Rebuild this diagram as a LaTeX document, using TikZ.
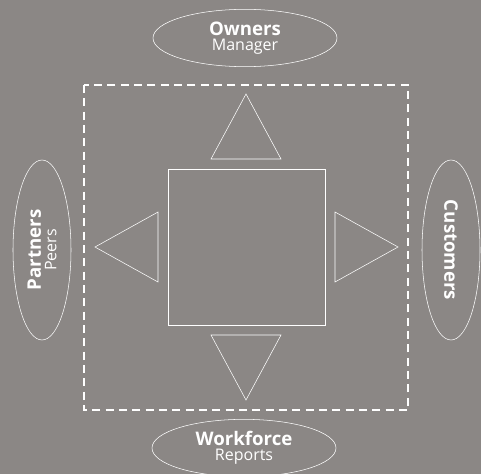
\documentclass[tikz,border=0pt]{standalone}
\usepackage{fontspec}
\setmainfont{Open Sans}
\usetikzlibrary{shapes.geometric, positioning}
\definecolor{bg}{RGB}{139,135,133}
\tikzset{
    line width=1.2pt,
    every node/.style={text=white, font=\fontsize{12}{14}\selectfont},
    party/.style={draw=white, ellipse, inner sep=0pt, minimum width=138pt, minimum height=43pt, align=center}, % the four outer groups
    side/.style={minimum width=135pt, minimum height=43.5pt}, % upright ellipses left and right
    arrowhead/.style={draw=white}, % the open triangles
    frame/.style={draw=white, dash pattern=on 6pt off 4pt, line width=1.4pt},
}
\newcommand{\grp}[2]{{\fontsize{14}{14}\selectfont\textbf{#1}}\\[-2.5pt]#2}

\begin{document}
\begin{tikzpicture}[x=0.75pt, y=-0.75pt]
    % background
    \useasboundingbox (0,0) rectangle (481,474);
    \fill[bg] (0,0) rectangle (481,474);

    % boundary
    \draw[frame] (84,85) rectangle (408,410);

    % centre
    \node[draw=white, minimum width=118pt, minimum height=117pt, inner sep=0pt] (core) at (246.5,247) {};

    % groups
    \node[party] (owners) at (245,38) {\grp{Owners}{Manager}};
    \node[party] (workforce) at (244,448) {\grp{Workforce}{Reports}};
    \node[party, side, rotate=90] (partners) at (42,250) {\grp{Partners}{Peers}};
    \node[party, side, rotate=-90] (customers) at (451,250) {{\fontsize{14}{14}\selectfont\textbf{Customers}}};

    % triangles
    \draw[arrowhead] (211,159) -- (246,94) -- (281,159) -- cycle;
    \draw[arrowhead] (211,335) -- (246,400) -- (281,335) -- cycle;
    \draw[arrowhead] (158,212) -- (95,247) -- (158,282) -- cycle;
    \draw[arrowhead] (335,212) -- (398,247) -- (335,282) -- cycle;
\end{tikzpicture}
\end{document}
